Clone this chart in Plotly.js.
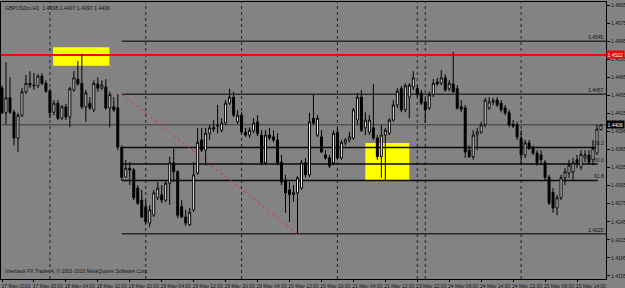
<!DOCTYPE html>
<html><head><meta charset="utf-8">
<script src="https://cdn.plot.ly/plotly-3.0.1.min.js"></script>
<style>html,body{margin:0;padding:0;background:#838383;}#chart{width:625px;height:288px;}</style>
</head><body><div id="chart"></div>
<script>
const symbolTitle = "GBPUSDm,H1";
const open = [
1.4467,1.4426,1.4451,1.4427,1.4384,1.4422,1.4461,1.4475,1.4472,1.4471,
1.4487,1.4475,1.4462,1.4427,1.4442,1.4417,1.4436,1.4419,1.4464,1.4482,
1.4475,1.4436,1.4442,1.4431,1.4474,1.4467,1.4469,1.4434,1.4436,1.4434,
1.4369,1.4319,1.4334,1.4331,1.4301,1.4281,1.4270,1.4243,1.4256,1.4285,
1.4290,1.4281,1.4309,1.4343,1.4328,1.4270,1.4253,1.4240,1.4265,1.4326,
1.4381,1.4364,1.4392,1.4402,1.4404,1.4397,1.4409,1.4442,1.4452,1.4411,
1.4422,1.4394,1.4389,1.4396,1.4411,1.4389,1.4343,1.4389,1.4386,1.4381,
1.4344,1.4314,1.4298,1.4290,1.4293,1.4301,1.4343,1.4323,1.4417,1.4389,
1.4386,1.4356,1.4351,1.4343,1.4394,1.4351,1.4376,1.4381,1.4384,1.4414,
1.4452,1.4401,1.4394,1.4401,1.4384,1.4353,1.4389,1.4392,1.4414,1.4439,
1.4466,1.4431,1.4452,1.4469,1.4466,1.4459,1.4444,1.4434,1.4456,1.4477,
1.4475,1.4484,1.4466,1.4474,1.4466,1.4436,1.4434,1.4364,1.4353,1.4389,
1.4394,1.4406,1.4434,1.4444,1.4447,1.4442,1.4434,1.4426,1.4407,1.4406,
1.4384,1.4356,1.4376,1.4367,1.4359,1.4356,1.4343,1.4319,1.4294,1.4268,
1.4285,1.4318,1.4326,1.4328,1.4348,1.4336,1.4351,1.4356,1.4348,1.4359,
1.4398];
const high = [
1.4471,1.4510,1.4485,1.4431,1.4426,1.4467,1.4489,1.4495,1.4492,1.4490,
1.4492,1.4480,1.4466,1.4447,1.4447,1.4439,1.4441,1.4469,1.4495,1.4512,
1.4524,1.4464,1.4452,1.4480,1.4485,1.4480,1.4482,1.4461,1.4452,1.4457,
1.4372,1.4348,1.4344,1.4334,1.4306,1.4298,1.4281,1.4273,1.4298,1.4311,
1.4306,1.4314,1.4353,1.4367,1.4331,1.4281,1.4265,1.4268,1.4344,1.4401,
1.4401,1.4401,1.4406,1.4414,1.4439,1.4417,1.4447,1.4466,1.4461,1.4431,
1.4427,1.4401,1.4402,1.4417,1.4422,1.4397,1.4397,1.4401,1.4397,1.4392,
1.4356,1.4323,1.4311,1.4306,1.4321,1.4348,1.4351,1.4426,1.4456,1.4422,
1.4397,1.4364,1.4356,1.4397,1.4401,1.4381,1.4384,1.4394,1.4434,1.4459,
1.4464,1.4427,1.4422,1.4474,1.4389,1.4406,1.4401,1.4417,1.4447,1.4467,
1.4471,1.4475,1.4475,1.4495,1.4472,1.4464,1.4451,1.4461,1.4482,1.4484,
1.4497,1.4490,1.4480,1.4527,1.4472,1.4447,1.4439,1.4372,1.4397,1.4401,
1.4411,1.4451,1.4452,1.4451,1.4452,1.4447,1.4439,1.4431,1.4414,1.4411,
1.4397,1.4381,1.4381,1.4372,1.4364,1.4364,1.4348,1.4323,1.4301,1.4290,
1.4323,1.4334,1.4348,1.4351,1.4356,1.4364,1.4364,1.4364,1.4381,1.4406,
1.4407];
const low = [
1.4424,1.4407,1.4424,1.4372,1.4361,1.4419,1.4457,1.4467,1.4464,1.4467,
1.4472,1.4459,1.4417,1.4422,1.4414,1.4414,1.4414,1.4402,1.4461,1.4471,
1.4432,1.4411,1.4431,1.4427,1.4461,1.4464,1.4431,1.4402,1.4427,1.4364,
1.4314,1.4318,1.4306,1.4281,1.4273,1.4251,1.4241,1.4236,1.4253,1.4281,
1.4276,1.4278,1.4273,1.4311,1.4251,1.4251,1.4238,1.4238,1.4261,1.4323,
1.4361,1.4339,1.4381,1.4394,1.4392,1.4394,1.4406,1.4439,1.4419,1.4407,
1.4391,1.4386,1.4384,1.4392,1.4387,1.4339,1.4339,1.4381,1.4377,1.4339,
1.4306,1.4260,1.4245,1.4278,1.4225,1.4298,1.4319,1.4319,1.4406,1.4386,
1.4359,1.4348,1.4334,1.4339,1.4348,1.4348,1.4372,1.4377,1.4381,1.4406,
1.4394,1.4389,1.4389,1.4381,1.4348,1.4318,1.4314,1.4389,1.4411,1.4434,
1.4427,1.4427,1.4417,1.4464,1.4452,1.4439,1.4409,1.4431,1.4452,1.4471,
1.4472,1.4461,1.4462,1.4459,1.4431,1.4427,1.4351,1.4351,1.4348,1.4364,
1.4391,1.4402,1.4431,1.4439,1.4436,1.4427,1.4422,1.4402,1.4401,1.4381,
1.4339,1.4351,1.4364,1.4356,1.4338,1.4339,1.4314,1.4273,1.4260,1.4256,
1.4281,1.4306,1.4318,1.4314,1.4334,1.4331,1.4344,1.4341,1.4339,1.4356,
1.4397];
const close = [
1.4426,1.4451,1.4427,1.4384,1.4422,1.4461,1.4475,1.4472,1.4471,1.4487,
1.4475,1.4462,1.4426,1.4442,1.4417,1.4436,1.4419,1.4466,1.4484,1.4474,
1.4436,1.4459,1.4434,1.4475,1.4467,1.4472,1.4434,1.4456,1.4431,1.4369,
1.4319,1.4334,1.4331,1.4285,1.4276,1.4253,1.4245,1.4265,1.4293,1.4301,
1.4281,1.4309,1.4343,1.4328,1.4256,1.4253,1.4243,1.4261,1.4323,1.4377,
1.4364,1.4392,1.4401,1.4399,1.4406,1.4409,1.4442,1.4452,1.4422,1.4422,
1.4394,1.4389,1.4397,1.4409,1.4391,1.4343,1.4389,1.4384,1.4381,1.4343,
1.4311,1.4293,1.4290,1.4294,1.4318,1.4343,1.4323,1.4411,1.4409,1.4417,
1.4361,1.4351,1.4338,1.4392,1.4351,1.4377,1.4381,1.4386,1.4431,1.4452,
1.4397,1.4414,1.4414,1.4384,1.4353,1.4389,1.4397,1.4414,1.4439,1.4462,
1.4431,1.4471,1.4472,1.4484,1.4456,1.4442,1.4431,1.4456,1.4475,1.4474,
1.4484,1.4464,1.4475,1.4461,1.4434,1.4432,1.4361,1.4353,1.4389,1.4394,
1.4406,1.4447,1.4444,1.4446,1.4439,1.4431,1.4426,1.4406,1.4404,1.4386,
1.4356,1.4376,1.4367,1.4359,1.4343,1.4348,1.4319,1.4276,1.4268,1.4285,
1.4318,1.4328,1.4339,1.4343,1.4343,1.4357,1.4356,1.4344,1.4367,1.4399,
1.4406];

const xTickBars = [0,8,16,24,32,40,48,56,64,72,80,88,96,104,112,120,128,136,144];
const xTickLabels = ["17 May 2010","17 May 20:00","18 May 04:00","18 May 12:00","18 May 20:00",
 "19 May 04:00","19 May 12:00","19 May 20:00","20 May 04:00","20 May 12:00","20 May 20:00",
 "21 May 04:00","21 May 12:00","23 May 22:00","24 May 06:00","24 May 14:00","24 May 22:00",
 "25 May 06:00","25 May 14:00"];
const yTickVals = [1.4605,1.4575,1.4545,1.4515,1.4485,1.4455,1.4425,1.43955,1.4365,1.4335,1.4305,1.4275,1.4245,1.4215,1.4185,1.4155];
const yTickLabels = ["1.4605","1.4575","1.4545","1.4515","1.4485","1.4455","1.4425","1.4396","1.4365","1.4335","1.4305","1.4275","1.4245","1.4215","1.4185","1.4155"];
const daySeparatorBars = [12,36,60,84,104,106,130];

const alertPrice = 1.4522;
const alertLabel = "1.4522";
const levelPrices = [1.4545,1.4457,1.4225];
const levelLabels = ["1.4545","1.4457","1.4225"];
const fibPrices = [1.43684,1.4341,1.43136];
const fibLabels = ["38.2","50.0","61.8"];
const fibStartBar = 30, fibEndBar = 149.2;
const fibTrendBars = [30,74];
const fibTrendPrices = [1.4457,1.4225];
const boxStartBar = [12.8,91];
const boxEndBar = [26.9,102];
const boxLow = [1.4504,1.4314];
const boxHigh = [1.4535,1.4376];

const xMin = -0.25, xMax = 151.26;
const bars = open.map((_, i) => i);
const last = open.length - 1;
const fmt = v => v.toFixed(4);
const ink = "#151515";
const F = "Liberation Sans, Arial, sans-serif";

const trace = {
  type: "candlestick", x: bars, open: open, high: high, low: low, close: close,
  increasing: {line: {color: "#000", width: 1}, fillcolor: "#ffffff"},
  decreasing: {line: {color: "#000", width: 1}, fillcolor: "#000000"},
  whiskerwidth: 0, hoverinfo: "skip", showlegend: false
};

const shapes = [];
for (let k = 0; k < boxStartBar.length; k++) {
  shapes.push({type: "rect", xref: "x", yref: "y", x0: boxStartBar[k], x1: boxEndBar[k],
    y0: boxLow[k], y1: boxHigh[k], fillcolor: "#ffff00", line: {width: 0}, layer: "below"});
}
daySeparatorBars.forEach(b => shapes.push({type: "line", xref: "x", yref: "paper", x0: b, x1: b, y0: 0, y1: 1,
  line: {color: "#222", width: 1, dash: "dot"}, layer: "below"}));
shapes.push({type: "line", xref: "x", yref: "y", x0: xMin, x1: xMax, y0: close[last], y1: close[last],
  line: {color: "#3a3a3a", width: 1}, layer: "below"});
levelPrices.forEach(p => shapes.push({type: "line", xref: "x", yref: "y", x0: fibStartBar, x1: xMax, y0: p, y1: p,
  line: {color: "#2a2a2a", width: 1.5}, layer: "below"}));
fibPrices.forEach(p => shapes.push({type: "line", xref: "x", yref: "y", x0: fibStartBar, x1: fibEndBar, y0: p, y1: p,
  line: {color: "#0a0a0a", width: 1.5}, layer: "below"}));
shapes.push({type: "line", xref: "x", yref: "y", x0: fibTrendBars[0], x1: fibTrendBars[1], y0: fibTrendPrices[0], y1: fibTrendPrices[1],
  line: {color: "#e03030", width: 1, dash: "dot"}, layer: "below"});
shapes.push({type: "line", xref: "x", yref: "y", x0: xMin, x1: xMax, y0: alertPrice, y1: alertPrice,
  line: {color: "#ff0000", width: 2}, layer: "below"});

const small = {family: F, size: 5, color: ink};
const annotations = [
  {xref: "paper", yref: "paper", x: 0.004, y: 0.997, xanchor: "left", yanchor: "top", showarrow: false,
   text: symbolTitle + "  " + [open[last], high[last], low[last], close[last]].map(fmt).join(" "), font: {family: F, size: 5.2, color: ink}},
  {xref: "paper", yref: "paper", x: 0.004, y: 0.012, xanchor: "left", yanchor: "bottom", showarrow: false,
   text: "Interbank FX Trader 4, © 2001-2010 MetaQuotes Software Corp.", font: {family: F, size: 5, color: ink}},
  {xref: "paper", yref: "y", x: 1, y: close[last], xanchor: "left", yanchor: "middle", showarrow: false,
   text: fmt(close[last]), bgcolor: "#000", borderpad: 0.5, font: {family: F, size: 5, color: "#fff"}},
  {xref: "paper", yref: "y", x: 1, y: alertPrice, xanchor: "left", yanchor: "middle", showarrow: false,
   text: alertLabel, bgcolor: "#ff0000", borderpad: 0.5, font: {family: F, size: 5, color: "#fff"}}
];
levelPrices.forEach((p, k) => annotations.push({xref: "paper", yref: "y", x: 0.998, y: p, xanchor: "right", yanchor: "bottom",
  showarrow: false, text: levelLabels[k], font: small, borderpad: 0}));
fibPrices.forEach((p, k) => annotations.push({xref: "paper", yref: "y", x: 0.998, y: p, xanchor: "right", yanchor: "bottom",
  showarrow: false, text: fibLabels[k], font: small, borderpad: 0}));

const layout = {
  width: 625, height: 288,
  margin: {l: 1, r: 19, t: 2, b: 9, pad: 0},
  paper_bgcolor: "#838383", plot_bgcolor: "#838383",
  showlegend: false, boxgap: 0.3,
  font: {family: F, size: 5, color: ink},
  xaxis: {type: "linear", range: [xMin, xMax], rangeslider: {visible: false}, showgrid: false, zeroline: false,
    tickmode: "array", tickvals: xTickBars, ticktext: xTickLabels, tickangle: 0,
    ticks: "outside", ticklen: 2, tickcolor: "#000", ticklabelshift: 14,
    showline: true, linecolor: "#000", linewidth: 1, mirror: true,
    tickfont: {family: F, size: 5, color: ink}},
  yaxis: {side: "right", range: [1.4150, 1.4610], showgrid: false, zeroline: false,
    tickmode: "array", tickvals: yTickVals, ticktext: yTickLabels,
    ticks: "outside", ticklen: 3, tickcolor: "#000",
    showline: true, linecolor: "#000", linewidth: 1, mirror: true,
    tickfont: {family: F, size: 5, color: ink}},
  shapes: shapes, annotations: annotations
};
Plotly.newPlot("chart", [trace], layout, {displayModeBar: false, staticPlot: true});
</script></body></html>
